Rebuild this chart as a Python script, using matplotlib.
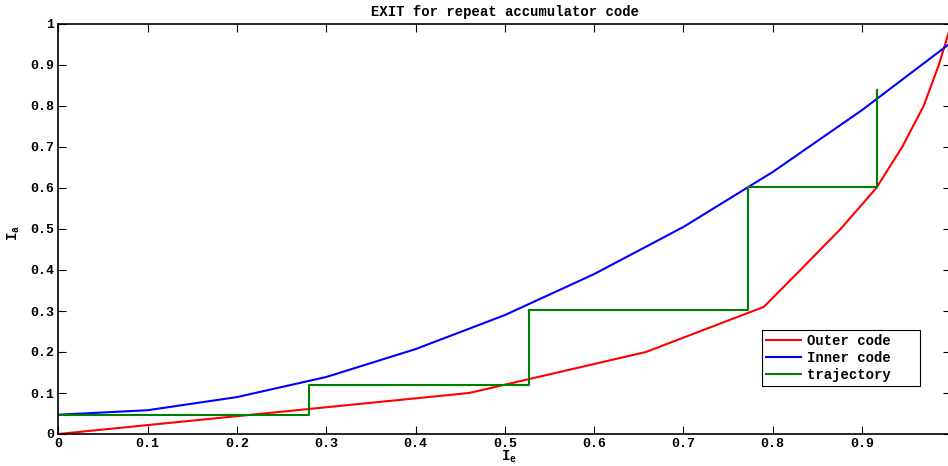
import matplotlib
matplotlib.use('Agg')
import matplotlib.pyplot as plt
import numpy as np

# EXIT curves read at their break points
outer_ie = [0.0, 0.46, 0.658, 0.79, 0.831, 0.876, 0.916, 0.945, 0.969, 0.986, 1.0]
outer_ia = [0.0, 0.10, 0.20, 0.31, 0.40, 0.50, 0.60, 0.70, 0.80, 0.90, 1.0]

inner_ie = [0.0, 0.1, 0.2, 0.3, 0.4, 0.5, 0.6, 0.7, 0.8, 0.9, 1.0]
inner_ia = [0.047, 0.058, 0.09, 0.139, 0.207, 0.29, 0.39, 0.505, 0.639, 0.79, 0.955]

# decoding trajectory (staircase)
traj_ie = [0.0, 0.281, 0.281, 0.527, 0.527, 0.772, 0.772, 0.917, 0.917]
traj_ia = [0.047, 0.047, 0.12, 0.12, 0.302, 0.302, 0.602, 0.602, 0.839]

ticks = np.arange(0, 1.01, 0.1)
y_tick_labels = ['0', '0.1', '0.2', '0.3', '0.4', '0.5', '0.6', '0.7', '0.8', '0.9', '1']
# the last x label falls past the right edge of the canvas
x_tick_labels = y_tick_labels[:-1] + ['']

plt.rcParams['font.family'] = 'Liberation Mono'
plt.rcParams['font.weight'] = 'bold'
plt.rcParams['mathtext.fontset'] = 'custom'
plt.rcParams['mathtext.rm'] = 'Liberation Mono:bold'
plt.rcParams['mathtext.it'] = 'Liberation Mono:bold'

fig = plt.figure(figsize=(9.48, 4.66), dpi=100)
ax = fig.add_axes([58.3 / 948, 32 / 466, 893 / 948, 410 / 466])

ax.plot(outer_ie, outer_ia, color='r', lw=1.5, label='Outer code   ')
ax.plot(inner_ie, inner_ia, color='b', lw=1.5, label='Inner code   ')
ax.plot(traj_ie, traj_ia, color=(0, 0.5, 0), lw=1.5, label='trajectory   ')

ax.set_xlim(0, 1)
ax.set_ylim(0, 1)
ax.set_xticks(ticks)
ax.set_xticklabels(x_tick_labels)
ax.set_yticks(ticks)
ax.set_yticklabels(y_tick_labels)
ax.tick_params(direction='in', length=6, width=0.8, labelsize=9.5,
               top=True, right=True, pad=3)
for s in ax.spines.values():
    s.set_linewidth(1.2)

ax.set_title('EXIT for repeat accumulator code', fontsize=10, fontweight='bold', pad=6)
ax.set_xlabel(r'$\mathrm{I_e}$', fontsize=10)
ax.xaxis.set_label_coords(0.505, -0.035)
ax.set_ylabel(r'$\mathrm{I_a}$', fontsize=10)
ax.yaxis.set_label_coords(-0.041, 0.49)

leg = ax.legend(loc='lower right', bbox_to_anchor=(0.965, 0.117), fontsize=10,
                fancybox=False, framealpha=1, edgecolor='k', borderpad=0.3,
                labelspacing=0.2, handlelength=2.5, handletextpad=0.45,
                borderaxespad=0)
leg.get_frame().set_linewidth(0.8)

fig.savefig('out.png', dpi=100)
